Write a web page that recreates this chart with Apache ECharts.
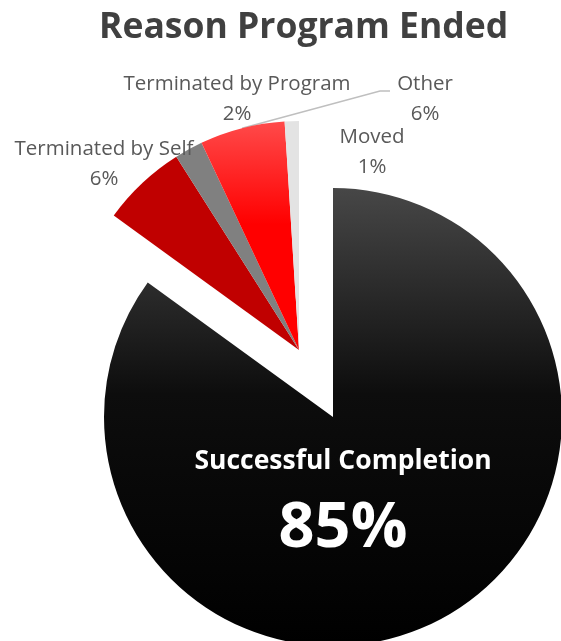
<!DOCTYPE html>
<html>
<head>
<meta charset="utf-8">
<script src="https://cdn.jsdelivr.net/npm/echarts@6/dist/echarts.min.js"></script>
<style>html,body{margin:0;padding:0;background:#fff;}#c{width:561px;height:641px;}</style>
</head>
<body>
<div id="c"></div>
<script>
var categories = ['Successful Completion', 'Terminated by Self', 'Terminated by Program', 'Other', 'Moved'];
var values = [85, 6, 2, 6, 1];
var titleText = 'Reason Program Ended';

var colors = [
  {type:'linear', x:0, y:0, x2:0, y2:1, colorStops:[{offset:0,color:'#474747'},{offset:0.45,color:'#0d0d0d'},{offset:1,color:'#000000'}]},
  '#c00000',
  '#808080',
  {type:'linear', x:0, y:0, x2:0, y2:1, colorStops:[{offset:0,color:'#ff4a4a'},{offset:0.45,color:'#ff0000'},{offset:1,color:'#ff0000'}]},
  '#e3e3e3'
];

var FONT = '"Open Sans", sans-serif';
var R = 229;
var mainCenter = [333, 417];
var explodeCenter = [299, 350];

// label anchor positions (pixels) for the exploded slices
var labelAnchors = {1:[104,164], 2:[237,99], 3:[425,99], 4:[372,152]};

function buildData(showMain) {
  return categories.map(function (name, i) {
    var visible = showMain ? (i === 0) : (i !== 0);
    return {
      name: name,
      value: values[i],
      itemStyle: visible ? {color: colors[i]} : {color: 'rgba(0,0,0,0)'},
      label: {show: visible},
      labelLine: {show: visible && i === 3}
    };
  });
}

var chart = echarts.init(document.getElementById('c'), null, {renderer: 'canvas'});
chart.setOption({
  backgroundColor: '#ffffff',
  animation: false,
  title: {
    text: titleText,
    left: 94,
    top: 5,
    textStyle: {fontFamily: FONT, fontWeight: 'bold', fontSize: 35.5, color: '#404040'}
  },
  series: [
    {
      type: 'pie',
      center: mainCenter,
      radius: R,
      startAngle: 90,
      clockwise: true,
      silent: true,
      emphasis: {disabled: true},
      label: {
        position: 'inside',
        overflow: 'none',
        formatter: function (p) { return '{a|' + p.name + '}\n{b|' + Math.round(p.percent) + '%}'; },
        rich: {
          a: {fontFamily: FONT, fontWeight: 'bold', fontSize: 26.5, color: '#ffffff', lineHeight: 64, align: 'center'},
          b: {fontFamily: FONT, fontWeight: 'bold', fontSize: 63, color: '#ffffff', lineHeight: 72, align: 'center'}
        }
      },
      labelLayout: function () {
        return {x: 343, y: 497, align: 'center', verticalAlign: 'middle'};
      },
      data: buildData(true)
    },
    {
      type: 'pie',
      center: explodeCenter,
      radius: R,
      startAngle: 90,
      clockwise: true,
      silent: true,
      emphasis: {disabled: true},
      label: {
        position: 'outside',
        overflow: 'none',
        width: 400,
        fontFamily: FONT,
        fontSize: 20.5,
        lineHeight: 30,
        color: '#595959',
        align: 'center',
        formatter: function (p) { return p.name + '\n' + Math.round(p.percent) + '%'; }
      },
      labelLine: {lineStyle: {color: '#bfbfbf', width: 1.5}, length: 10, length2: 10},
      labelLayout: function (params) {
        var a = labelAnchors[params.dataIndex];
        if (!a) return {};
        var res = {x: a[0], y: a[1], align: 'center', verticalAlign: 'middle'};
        if (params.dataIndex === 3 && params.labelLinePoints) {
          var p0 = params.labelLinePoints[0];
          res.labelLinePoints = [p0, [a[0] - 45, a[1] - 8], [a[0] - 35, a[1] - 8]];
        }
        return res;
      },
      data: buildData(false)
    }
  ]
});
</script>
</body>
</html>
